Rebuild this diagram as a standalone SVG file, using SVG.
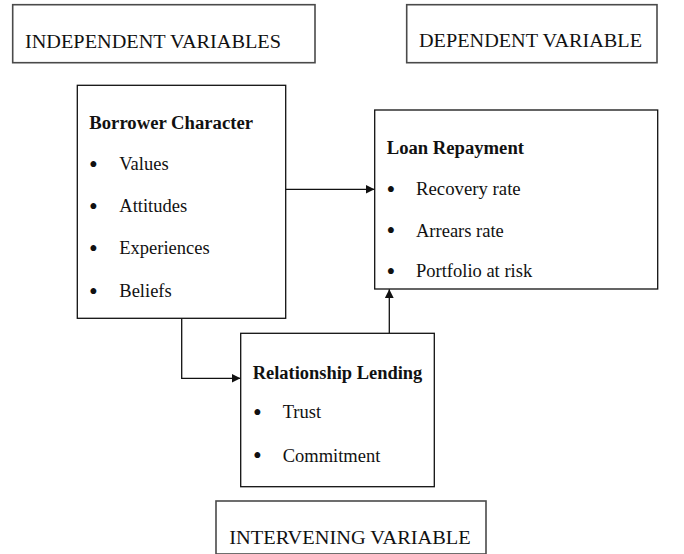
<svg xmlns="http://www.w3.org/2000/svg" width="684" height="554" viewBox="0 0 684 554">
<style>
.hdr{fill:#fff;stroke:#4a4a4a;stroke-width:1.6}
.box{fill:#fff;stroke:#111;stroke-width:1.3}
text{font-family:"Liberation Serif","Times New Roman",serif;fill:#111}
.h{font-size:19px}
.t{font-size:18.5px;font-weight:bold}
.b{font-size:18.5px}
.d{font-size:25px}
.con{fill:none;stroke:#111;stroke-width:1.3}
</style>
<defs>
<marker id="arr" viewBox="0 0 10 10" refX="10" refY="5" markerWidth="9" markerHeight="9" markerUnits="userSpaceOnUse" orient="auto">
<path d="M0,0 L10,5 L0,10 z" fill="#111"/>
</marker>
</defs>
<rect width="684" height="554" fill="#fff"/>
<g id="connectors">
<path class="con" d="M285.7,189.3 H374.5" marker-end="url(#arr)"/>
<path class="con" d="M181.7,318.3 V378.3 H240.5" marker-end="url(#arr)"/>
<path class="con" d="M389.3,333.3 V289.2" marker-end="url(#arr)"/>
</g>
<g id="independent">
<rect class="hdr" x="12.7" y="4.7" width="302.3" height="58"/>
<text class="h" x="25" y="48" textLength="256" lengthAdjust="spacingAndGlyphs">INDEPENDENT VARIABLES</text>
</g>
<g id="dependent">
<rect class="hdr" x="406.7" y="4.7" width="250.3" height="58"/>
<text class="h" x="419" y="47" textLength="223" lengthAdjust="spacingAndGlyphs">DEPENDENT VARIABLE</text>
</g>
<g id="borrower">
<rect class="box" x="77.3" y="85.3" width="208.4" height="233"/>
<text class="t" x="89.3" y="129.3" textLength="163.7" lengthAdjust="spacingAndGlyphs">Borrower Character</text>
<text class="d" x="89" y="172.5">•</text><text class="b" x="119.3" y="170">Values</text>
<text class="d" x="89" y="214.8">•</text><text class="b" x="119.3" y="212.3">Attitudes</text>
<text class="d" x="89" y="256.8">•</text><text class="b" x="119.3" y="254.3">Experiences</text>
<text class="d" x="89" y="299.8">•</text><text class="b" x="119.3" y="297.3">Beliefs</text>
</g>
<g id="loan">
<rect class="box" x="374.7" y="110" width="283" height="179"/>
<text class="t" x="386.7" y="154" textLength="137.3" lengthAdjust="spacingAndGlyphs">Loan Repayment</text>
<text class="d" x="386.5" y="197.5">•</text><text class="b" x="416" y="195" textLength="104.7" lengthAdjust="spacingAndGlyphs">Recovery rate</text>
<text class="d" x="386.5" y="239.2">•</text><text class="b" x="416" y="236.7">Arrears rate</text>
<text class="d" x="386.5" y="279.8">•</text><text class="b" x="416" y="277.3">Portfolio at risk</text>
</g>
<g id="relationship">
<rect class="box" x="240.7" y="333.3" width="193.6" height="153.4"/>
<text class="t" x="252.7" y="379.3" textLength="169.6" lengthAdjust="spacingAndGlyphs">Relationship Lending</text>
<text class="d" x="253" y="420.8">•</text><text class="b" x="282.7" y="418.3">Trust</text>
<text class="d" x="253" y="464.2">•</text><text class="b" x="282.7" y="461.7">Commitment</text>
</g>
<g id="intervening">
<rect class="hdr" x="216" y="501" width="270" height="53"/>
<text class="h" x="229.3" y="544" textLength="241.4" lengthAdjust="spacingAndGlyphs">INTERVENING VARIABLE</text>
</g>
</svg>
